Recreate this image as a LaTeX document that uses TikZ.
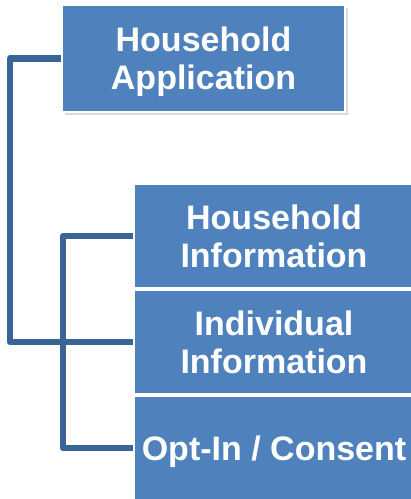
\documentclass[tikz,border=0pt]{standalone}
\usepackage{fontspec}
\setmainfont{Liberation Sans}
\usetikzlibrary{positioning, shadows}
\definecolor{boxblue}{HTML}{4F81BD}
\definecolor{linkblue}{HTML}{3A6496}

\begin{document}
\begin{tikzpicture}[
    x=1pt, y=1pt,
    blockbox/.style={rectangle, minimum width=283pt, minimum height=107pt, inner sep=0pt, align=center, text depth=0pt, text=white, font=\fontsize{34}{38}\selectfont\bfseries, draw=white, line width=2pt, fill=boxblue, drop shadow={shadow xshift=2.5pt, shadow yshift=-2.5pt, opacity=0.3}},
    partbox/.style={blockbox, minimum width=280pt, minimum height=104pt},
    link/.style={draw=linkblue, line width=6.5pt, line join=round},
]
\useasboundingbox (0,0) rectangle (411,-499);

% Parent block
\node[blockbox] (app) at (203.5,-58.5) {Household\\Application};

% Stacked parts of the application
\node[partbox, anchor=north west] (hhinfo) at (133,-183) {Household\\Information};
\node[partbox, below=0pt of hhinfo] (indiv) {Individual\\Information};
\node[partbox, below=0pt of indiv] (consent) {Opt-In / Consent};

% Draw the connectors
\draw[link] (app.west) -- ++(-51,0) |- (indiv.west);
\draw[link] (hhinfo.west) -- ++(-70,0) |- (consent.west);

\end{tikzpicture}
\end{document}
